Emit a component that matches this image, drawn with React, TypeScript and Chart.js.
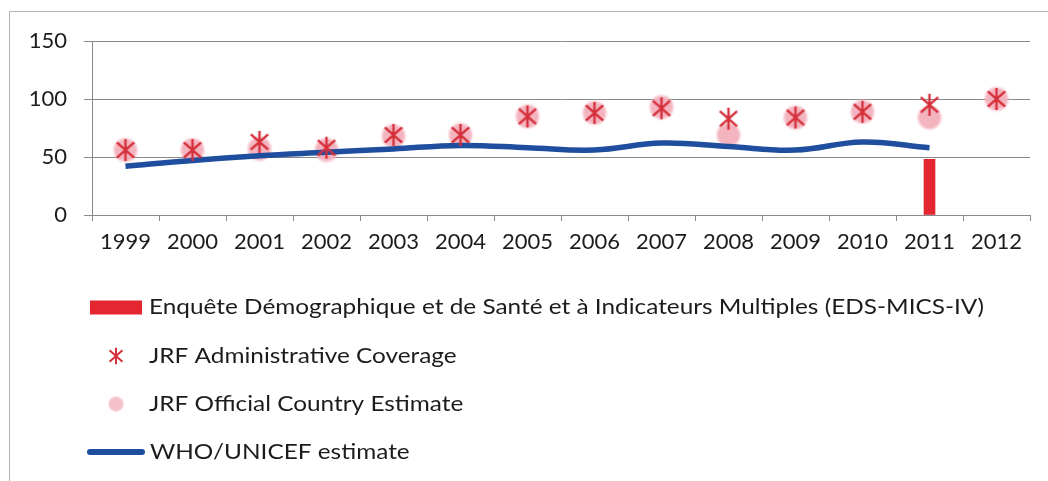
import React, { useEffect, useRef } from 'react';
import { Chart, registerables } from 'chart.js';

Chart.register(...registerables);

const years = ['1999', '2000', '2001', '2002', '2003', '2004', '2005', '2006', '2007', '2008', '2009', '2010', '2011', '2012'];
const surveyValues = [null, null, null, null, null, null, null, null, null, null, null, null, 48, null];
const adminCoverage = [56, 56, 63, 58, 69, 69, 85, 88, 92, 83, 84, 89, 95, 100];
const officialEstimate = [56, 56, 57, 56, 68, 69, 85, 88, 93, 69, 84, 89, 84, 100];
const whoUnicef = [42, 47, 51, 54, 57, 60, 58, 56, 62, 59, 56, 63, 58, null];
const yTicks = [0, 50, 100, 150];
const legendLabels = [
  'Enquête Démographique et de Santé et à Indicateurs Multiples (EDS-MICS-IV)',
  'JRF Administrative Coverage',
  'JRF Official Country Estimate',
  'WHO/UNICEF estimate',
];

const RED_BAR = '#e3262f';
const RED_STAR = '#d42f3a';
const PINK = '244,176,188';
const BLUE = '#1f4e9e';
const GRID = '#8a8a8a';
const TEXT = '#1c1c1c';
const FONT = 'Lato, "Open Sans", sans-serif';

function makeAsterisk(size: number, lw: number) {
  const c = document.createElement('canvas');
  c.width = size;
  c.height = size;
  const ctx = c.getContext('2d')!;
  const m = size / 2;
  const dx = size * 0.36;
  const dy = size * 0.32;
  const vy = size * 0.46;
  ctx.strokeStyle = RED_STAR;
  ctx.lineWidth = lw;
  ctx.beginPath();
  ctx.moveTo(m - dx, m - dy);
  ctx.lineTo(m + dx, m + dy);
  ctx.moveTo(m + dx, m - dy);
  ctx.lineTo(m - dx, m + dy);
  ctx.moveTo(m, m - vy);
  ctx.lineTo(m, m + vy);
  ctx.stroke();
  return c;
}

function makeDot(size: number, alpha: number) {
  const c = document.createElement('canvas');
  c.width = size;
  c.height = size;
  const ctx = c.getContext('2d')!;
  const m = size / 2;
  const g = ctx.createRadialGradient(m, m, 0, m, m, m);
  g.addColorStop(0, `rgba(${PINK},${alpha})`);
  g.addColorStop(0.72, `rgba(${PINK},${alpha})`);
  g.addColorStop(1, `rgba(${PINK},0)`);
  ctx.fillStyle = g;
  ctx.beginPath();
  ctx.arc(m, m, m, 0, Math.PI * 2);
  ctx.fill();
  return c;
}

export default function App() {
  const ref = useRef<HTMLCanvasElement>(null);

  useEffect(() => {
    document.body.style.margin = '0';
    const canvas = ref.current!;
    const starBig = makeAsterisk(24, 2.4);
    const starSmall = makeAsterisk(18, 2);
    const dotBig = makeDot(27, 0.95);
    const dotSmall = makeDot(17, 0.8);

    const frameAndLegend = {
      id: 'frameAndLegend',
      beforeDraw(chart: any) {
        const ctx = chart.ctx;
        ctx.save();
        ctx.strokeStyle = '#b5b5b5';
        ctx.lineWidth = 1;
        ctx.strokeRect(9.5, 11.5, 1200, 600);
        ctx.restore();
      },
      afterDraw(chart: any) {
        const ctx = chart.ctx;
        ctx.save();
        const rows = [307.5, 356, 404, 452];
        ctx.fillStyle = RED_BAR;
        ctx.fillRect(90, rows[0] - 7, 52, 14);
        ctx.drawImage(starSmall, 116 - starSmall.width / 2, rows[1] - starSmall.height / 2);
        ctx.drawImage(dotSmall, 116 - dotSmall.width / 2, rows[2] - dotSmall.height / 2);
        ctx.strokeStyle = BLUE;
        ctx.lineWidth = 6;
        ctx.lineCap = 'round';
        ctx.beginPath();
        ctx.moveTo(90, rows[3]);
        ctx.lineTo(142, rows[3]);
        ctx.stroke();
        ctx.fillStyle = TEXT;
        ctx.font = `21px ${FONT}`;
        ctx.textBaseline = 'middle';
        ctx.textAlign = 'left';
        legendLabels.forEach((t, i) => {
          ctx.save();
          ctx.translate(i === 3 ? 150 : 149, rows[i]);
          ctx.scale(1.16, 1);
          ctx.fillText(t, 0, 0);
          ctx.restore();
        });
        ctx.restore();
      },
    };

    const chart = new Chart(canvas, {
      type: 'bar',
      data: {
        labels: years,
        datasets: [
          {
            type: 'bar',
            label: legendLabels[0],
            data: surveyValues as any,
            backgroundColor: RED_BAR,
            barThickness: 11,
            order: 4,
          },
          {
            type: 'line',
            label: legendLabels[1],
            data: adminCoverage,
            showLine: false,
            pointStyle: starBig as any,
            pointRadius: 10,
            order: 1,
          },
          {
            type: 'line',
            label: legendLabels[2],
            data: officialEstimate,
            showLine: false,
            pointStyle: dotBig as any,
            pointRadius: 10,
            order: 3,
          },
          {
            type: 'line',
            label: legendLabels[3],
            data: whoUnicef as any,
            borderColor: BLUE,
            borderWidth: 5.5,
            pointRadius: 0,
            tension: 0.4,
            spanGaps: false,
            order: 2,
          },
        ],
      },
      options: {
        animation: false,
        responsive: false,
        maintainAspectRatio: false,
        layout: { padding: { left: 0, top: 41, right: 18, bottom: 216 } },
        plugins: { legend: { display: false }, tooltip: { enabled: false } },
        scales: {
          x: {
            grid: { drawOnChartArea: false, drawTicks: true, tickLength: 6, color: GRID, offset: true },
            border: { color: GRID },
            ticks: { font: { family: FONT, size: 22 }, color: TEXT, padding: 8, maxRotation: 0, autoSkip: false },
            afterFit: (s: any) => {
              s.height = 50;
            },
          },
          y: {
            min: 0,
            max: 150,
            afterBuildTicks: (s: any) => {
              s.ticks = yTicks.map((v) => ({ value: v }));
            },
            grid: { color: GRID, tickLength: 8 },
            border: { color: GRID },
            ticks: { font: { family: FONT, size: 22 }, color: TEXT, padding: 17 },
            afterFit: (s: any) => {
              s.width = 92;
            },
          },
        },
      },
      plugins: [frameAndLegend],
    });
    return () => chart.destroy();
  }, []);

  return <canvas ref={ref} width={1048} height={481} style={{ display: 'block' }} />;
}
